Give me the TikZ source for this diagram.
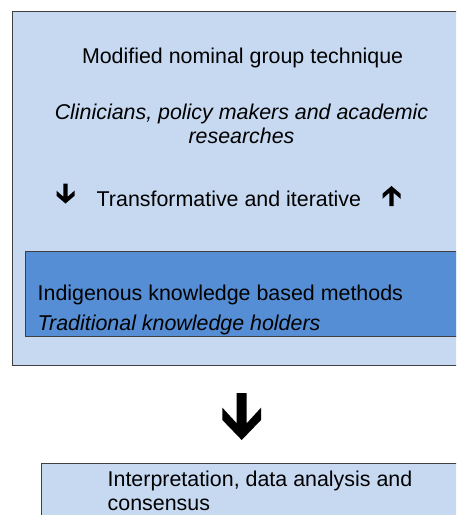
\documentclass[tikz,border=0pt]{standalone}
\usepackage{fontspec}
\setmainfont{Liberation Sans}
\definecolor{lightbox}{HTML}{C6D9F1}
\definecolor{darkbox}{HTML}{558ED5}
\definecolor{edge}{HTML}{404040}
\tikzset{
  boxlight/.style={draw=edge, line width=1pt, fill=lightbox, inner sep=0pt, outer sep=0pt, rectangle, anchor=north west},
  boxdark/.style={draw=edge, line width=1pt, fill=darkbox, inner sep=0pt, outer sep=0pt, rectangle, anchor=north west},
  label/.style={inner sep=0pt, outer sep=0pt, font=\fontsize{21.4}{24}\selectfont, text=black},
  labelit/.style={label, font=\fontsize{21.4}{24}\selectfont\itshape},
  bigdown/.pic={\fill[black] (-5,0) -- (5,0) -- (5,30.3) -- (19.3,14.7) -- (19.3,27) -- (0,47) -- (-19.3,27) -- (-19.3,14.7) -- (-5,30.3) -- cycle;},
  smalldown/.pic={\fill[black] (-2.2,0) -- (2.2,0) -- (2.2,13.2) -- (9,7.2) -- (9,12.3) -- (0,20) -- (-9,12.3) -- (-9,7.2) -- (-2.2,13.2) -- cycle;}
}
\begin{document}
\begin{tikzpicture}[x=1pt,y=-1pt]
\useasboundingbox (0,0) rectangle (456,515);
\clip (0,0) rectangle (456,515);
\fill[white] (0,0) rectangle (456,515);
% boxes
\node[boxlight, minimum width=450pt, minimum height=353.5pt] (outer) at (12.5,11.5) {};
\node[boxdark, minimum width=440pt, minimum height=85.2pt] (inner) at (25,251.5) {};
\node[boxlight, minimum width=430pt, minimum height=80pt] (bottom) at (41.5,463.3) {};
% texts
\node[label, anchor=base west] (title) at (82,63.3) {Modified nominal group technique};
\node[labelit, anchor=base] (who1) at (241.5,119.3) {Clinicians, policy makers and academic};
\node[labelit, anchor=base] (who2) at (241.5,143.3) {researches};
\node[label, anchor=base west] (trans) at (96.7,206) {Transformative and iterative};
\node[label, anchor=base west] (ikm) at (37.7,300.7) {Indigenous knowledge based methods};
\node[labelit, anchor=base west] (tkh) at (37.7,330) {Traditional knowledge holders};
\node[label, anchor=base west] (interp1) at (107.7,486.7) {Interpretation, data analysis and};
\node[label, anchor=base west] (interp2) at (107.7,510) {consensus};
% arrows
\pic (leftarr) at (65.5,183.5) {smalldown};
\pic[yscale=-1] (rightarr) at (391.5,206) {smalldown};
\pic (bigarr) at (241.7,393) {bigdown};
\end{tikzpicture}
\end{document}
